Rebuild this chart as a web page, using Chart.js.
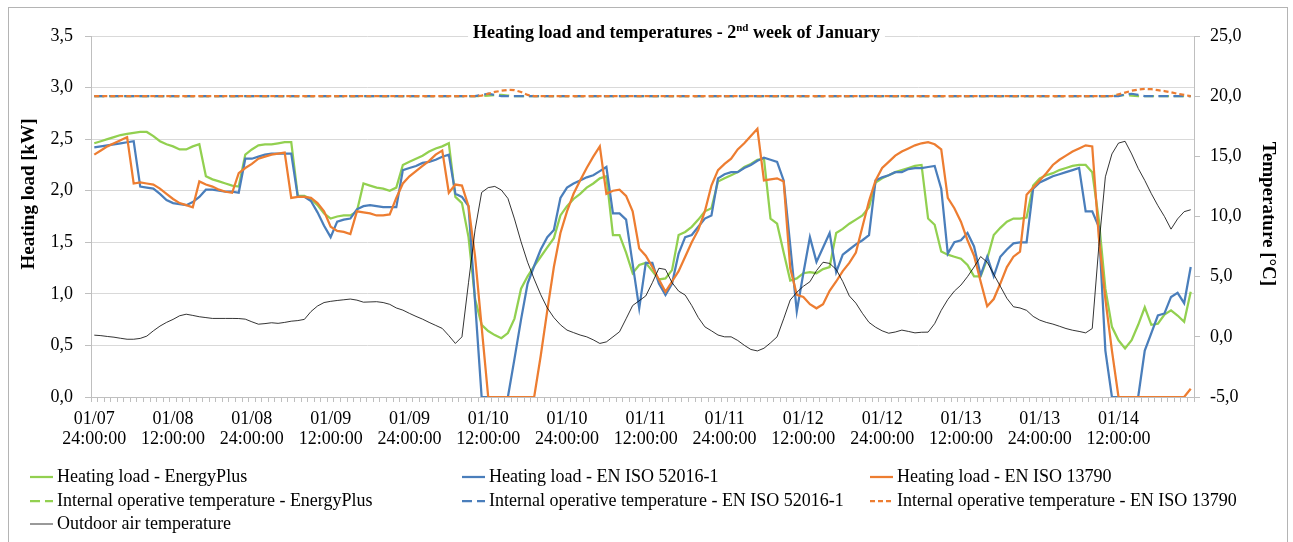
<!DOCTYPE html>
<html>
<head>
<meta charset="utf-8">
<title>Heating load and temperatures</title>
<script src="https://cdn.jsdelivr.net/npm/chart.js@4.4.0/dist/chart.umd.min.js"></script>
<style>
    html, body { margin: 0; padding: 0; background: #fff; }
    #wrap { position: relative; width: 1293px; height: 542px; }
</style>
</head>
<body>
<div id="wrap"><canvas id="heatChart" width="1293" height="542"></canvas></div>
<script>
// hourly categories, EnergyPlus style: 01/07 24:00:00 ... 01/14 23:00:00
const days = ['01/08', '01/09', '01/10', '01/11', '01/12', '01/13', '01/14'];
const hours = ['01/07 24:00:00'];
days.forEach(d => {
    for (let h = 1; h <= 23; h++) hours.push(d + ' ' + String(h).padStart(2, '0') + ':00:00');
    if (d !== '01/14') hours.push(d + ' 24:00:00');
});

// heating load [kW]
const heatEnergyPlus = [
    2.46, 2.48, 2.50, 2.52, 2.54, 2.55, 2.56, 2.57, 2.57, 2.53, 2.48, 2.45,
    2.43, 2.40, 2.40, 2.43, 2.45, 2.14, 2.11, 2.09, 2.07, 2.05, 2.04, 2.35,
    2.40, 2.44, 2.45, 2.45, 2.46, 2.47, 2.47, 1.95, 1.95, 1.92, 1.86, 1.78,
    1.73, 1.75, 1.76, 1.76, 1.80, 2.07, 2.05, 2.03, 2.02, 2.00, 2.03, 2.25,
    2.28, 2.31, 2.34, 2.38, 2.41, 2.43, 2.46, 1.94, 1.88, 1.55, 0.95, 0.70,
    0.64, 0.60, 0.57, 0.62, 0.76, 1.05, 1.17, 1.27, 1.36, 1.45, 1.54, 1.76,
    1.85, 1.92, 1.97, 2.03, 2.07, 2.12, 2.14, 1.57, 1.57, 1.40, 1.20, 1.28,
    1.30, 1.22, 1.14, 1.15, 1.23, 1.57, 1.60, 1.65, 1.72, 1.80, 1.83, 2.09,
    2.12, 2.15, 2.18, 2.23, 2.26, 2.30, 2.31, 1.73, 1.68, 1.40, 1.13, 1.15,
    1.20, 1.21, 1.20, 1.24, 1.26, 1.59, 1.63, 1.68, 1.72, 1.76, 1.84, 2.08,
    2.12, 2.15, 2.18, 2.20, 2.22, 2.24, 2.25, 1.73, 1.67, 1.41, 1.38, 1.36,
    1.34, 1.28, 1.17, 1.17, 1.34, 1.57, 1.64, 1.70, 1.73, 1.73, 1.74, 2.05,
    2.12, 2.15, 2.17, 2.20, 2.22, 2.24, 2.25, 2.25, 2.18, 1.72, 1.05, 0.68,
    0.55, 0.47, 0.55, 0.70, 0.87, 0.70, 0.71, 0.80, 0.84, 0.79, 0.73, 1.02
];
const heat52016 = [
    2.42, 2.43, 2.44, 2.45, 2.46, 2.47, 2.48, 2.04, 2.03, 2.02, 1.97, 1.91,
    1.88, 1.87, 1.86, 1.89, 1.94, 2.01, 2.01, 2.00, 1.99, 1.99, 1.98, 2.31,
    2.31, 2.33, 2.35, 2.36, 2.36, 2.36, 2.36, 1.94, 1.94, 1.90, 1.79, 1.66,
    1.55, 1.70, 1.72, 1.73, 1.82, 1.85, 1.86, 1.85, 1.84, 1.84, 1.84, 2.20,
    2.22, 2.24, 2.27, 2.28, 2.30, 2.33, 2.35, 1.97, 1.94, 1.85, 0.92, 0.00,
    0.00, 0.00, 0.00, 0.00, 0.37, 0.75, 1.10, 1.27, 1.43, 1.55, 1.62, 1.93,
    2.03, 2.07, 2.10, 2.13, 2.15, 2.19, 2.23, 1.78, 1.78, 1.72, 1.29, 0.86,
    1.30, 1.30, 1.10, 0.99, 1.10, 1.39, 1.55, 1.57, 1.65, 1.73, 1.76, 2.12,
    2.16, 2.18, 2.18, 2.22, 2.25, 2.29, 2.32, 2.30, 2.28, 2.10, 1.47, 0.83,
    1.20, 1.55, 1.31, 1.45, 1.59, 1.21, 1.38, 1.43, 1.48, 1.52, 1.57, 2.10,
    2.13, 2.15, 2.18, 2.18, 2.21, 2.22, 2.22, 2.23, 2.24, 2.02, 1.39, 1.50,
    1.52, 1.59, 1.46, 1.18, 1.36, 1.17, 1.36, 1.43, 1.49, 1.50, 1.50, 2.02,
    2.08, 2.11, 2.14, 2.16, 2.18, 2.20, 2.22, 1.80, 1.80, 1.65, 0.45, 0.00,
    0.00, 0.00, 0.00, 0.00, 0.45, 0.62, 0.79, 0.81, 0.97, 1.01, 0.91, 1.26
];
const heat13790 = [
    2.35, 2.39, 2.43, 2.46, 2.49, 2.52, 2.07, 2.08, 2.07, 2.06, 2.02, 1.97,
    1.92, 1.88, 1.86, 1.84, 2.09, 2.06, 2.04, 2.01, 1.99, 1.98, 2.17, 2.22,
    2.26, 2.31, 2.33, 2.35, 2.36, 2.37, 1.93, 1.94, 1.94, 1.93, 1.88, 1.80,
    1.65, 1.61, 1.60, 1.58, 1.80, 1.79, 1.78, 1.76, 1.76, 1.77, 1.93, 2.07,
    2.14, 2.19, 2.24, 2.29, 2.35, 2.39, 1.98, 2.06, 2.05, 1.85, 1.36, 0.68,
    0.00, 0.00, 0.00, 0.00, 0.00, 0.00, 0.00, 0.00, 0.40, 0.84, 1.26, 1.59,
    1.80, 1.97, 2.10, 2.22, 2.33, 2.43, 1.97, 2.00, 2.01, 1.95, 1.80, 1.44,
    1.37, 1.26, 1.14, 1.02, 1.12, 1.22, 1.36, 1.50, 1.62, 1.80, 2.05, 2.20,
    2.26, 2.31, 2.40, 2.46, 2.53, 2.60, 2.10, 2.11, 2.12, 2.09, 1.25, 0.99,
    0.97, 0.90, 0.86, 0.90, 1.03, 1.12, 1.22, 1.30, 1.40, 1.65, 1.90, 2.10,
    2.22, 2.28, 2.34, 2.38, 2.41, 2.44, 2.46, 2.47, 2.45, 2.40, 1.93, 1.83,
    1.70, 1.52, 1.37, 1.12, 0.88, 0.95, 1.10, 1.26, 1.36, 1.41, 1.96, 2.03,
    2.10, 2.17, 2.25, 2.30, 2.34, 2.38, 2.41, 2.44, 2.43, 1.55, 0.95, 0.45,
    0.00, 0.00, 0.00, 0.00, 0.00, 0.00, 0.00, 0.00, 0.00, 0.00, 0.00, 0.08
];

// internal operative temperature [°C]
const tempEnergyPlus = [
    20.0, 20.0, 20.0, 20.0, 20.0, 20.0, 20.0, 20.0, 20.0, 20.0, 20.0, 20.0,
    20.0, 20.0, 20.0, 20.0, 20.0, 20.0, 20.0, 20.0, 20.0, 20.0, 20.0, 20.0,
    20.0, 20.0, 20.0, 20.0, 20.0, 20.0, 20.0, 20.0, 20.0, 20.0, 20.0, 20.0,
    20.0, 20.0, 20.0, 20.0, 20.0, 20.0, 20.0, 20.0, 20.0, 20.0, 20.0, 20.0,
    20.0, 20.0, 20.0, 20.0, 20.0, 20.0, 20.0, 20.0, 20.0, 20.0, 20.0, 20.0,
    20.05, 20.1, 20.1, 20.05, 20.0, 20.0, 20.0, 20.0, 20.0, 20.0, 20.0, 20.0,
    20.0, 20.0, 20.0, 20.0, 20.0, 20.0, 20.0, 20.0, 20.0, 20.0, 20.0, 20.0,
    20.0, 20.0, 20.0, 20.0, 20.0, 20.0, 20.0, 20.0, 20.0, 20.0, 20.0, 20.0,
    20.0, 20.0, 20.0, 20.0, 20.0, 20.0, 20.0, 20.0, 20.0, 20.0, 20.0, 20.0,
    20.0, 20.0, 20.0, 20.0, 20.0, 20.0, 20.0, 20.0, 20.0, 20.0, 20.0, 20.0,
    20.0, 20.0, 20.0, 20.0, 20.0, 20.0, 20.0, 20.0, 20.0, 20.0, 20.0, 20.0,
    20.0, 20.0, 20.0, 20.0, 20.0, 20.0, 20.0, 20.0, 20.0, 20.0, 20.0, 20.0,
    20.0, 20.0, 20.0, 20.0, 20.0, 20.0, 20.0, 20.0, 20.0, 20.0, 20.0, 20.0,
    20.05, 20.1, 20.05, 20.0, 20.0, 20.0, 20.0, 20.0, 20.0, 20.0, 20.0, 20.0
];
const temp52016 = [
    20.0, 20.0, 20.0, 20.0, 20.0, 20.0, 20.0, 20.0, 20.0, 20.0, 20.0, 20.0,
    20.0, 20.0, 20.0, 20.0, 20.0, 20.0, 20.0, 20.0, 20.0, 20.0, 20.0, 20.0,
    20.0, 20.0, 20.0, 20.0, 20.0, 20.0, 20.0, 20.0, 20.0, 20.0, 20.0, 20.0,
    20.0, 20.0, 20.0, 20.0, 20.0, 20.0, 20.0, 20.0, 20.0, 20.0, 20.0, 20.0,
    20.0, 20.0, 20.0, 20.0, 20.0, 20.0, 20.0, 20.0, 20.0, 20.0, 20.0, 20.1,
    20.2, 20.1, 20.0, 20.0, 20.0, 20.0, 20.0, 20.0, 20.0, 20.0, 20.0, 20.0,
    20.0, 20.0, 20.0, 20.0, 20.0, 20.0, 20.0, 20.0, 20.0, 20.0, 20.0, 20.0,
    20.0, 20.0, 20.0, 20.0, 20.0, 20.0, 20.0, 20.0, 20.0, 20.0, 20.0, 20.0,
    20.0, 20.0, 20.0, 20.0, 20.0, 20.0, 20.0, 20.0, 20.0, 20.0, 20.0, 20.0,
    20.0, 20.0, 20.0, 20.0, 20.0, 20.0, 20.0, 20.0, 20.0, 20.0, 20.0, 20.0,
    20.0, 20.0, 20.0, 20.0, 20.0, 20.0, 20.0, 20.0, 20.0, 20.0, 20.0, 20.0,
    20.0, 20.0, 20.0, 20.0, 20.0, 20.0, 20.0, 20.0, 20.0, 20.0, 20.0, 20.0,
    20.0, 20.0, 20.0, 20.0, 20.0, 20.0, 20.0, 20.0, 20.0, 20.0, 20.0, 20.0,
    20.0, 20.15, 20.2, 20.1, 20.0, 20.0, 20.0, 20.0, 20.0, 20.0, 20.0, 20.0
];
const temp13790 = [
    20.0, 20.0, 20.0, 20.0, 20.0, 20.0, 20.0, 20.0, 20.0, 20.0, 20.0, 20.0,
    20.0, 20.0, 20.0, 20.0, 20.0, 20.0, 20.0, 20.0, 20.0, 20.0, 20.0, 20.0,
    20.0, 20.0, 20.0, 20.0, 20.0, 20.0, 20.0, 20.0, 20.0, 20.0, 20.0, 20.0,
    20.0, 20.0, 20.0, 20.0, 20.0, 20.0, 20.0, 20.0, 20.0, 20.0, 20.0, 20.0,
    20.0, 20.0, 20.0, 20.0, 20.0, 20.0, 20.0, 20.0, 20.0, 20.0, 20.0, 20.05,
    20.2, 20.35, 20.45, 20.52, 20.5, 20.35, 20.1, 20.0, 20.0, 20.0, 20.0, 20.0,
    20.0, 20.0, 20.0, 20.0, 20.0, 20.0, 20.0, 20.0, 20.0, 20.0, 20.0, 20.0,
    20.0, 20.0, 20.0, 20.0, 20.0, 20.0, 20.0, 20.0, 20.0, 20.0, 20.0, 20.0,
    20.0, 20.0, 20.0, 20.0, 20.0, 20.0, 20.0, 20.0, 20.0, 20.0, 20.0, 20.0,
    20.0, 20.0, 20.0, 20.0, 20.0, 20.0, 20.0, 20.0, 20.0, 20.0, 20.0, 20.0,
    20.0, 20.0, 20.0, 20.0, 20.0, 20.0, 20.0, 20.0, 20.0, 20.0, 20.0, 20.0,
    20.0, 20.0, 20.0, 20.0, 20.0, 20.0, 20.0, 20.0, 20.0, 20.0, 20.0, 20.0,
    20.0, 20.0, 20.0, 20.0, 20.0, 20.0, 20.0, 20.0, 20.0, 20.0, 20.0, 20.0,
    20.15, 20.3, 20.45, 20.55, 20.6, 20.58, 20.5, 20.42, 20.32, 20.2, 20.1, 20.0
];

// outdoor air temperature [°C]
const tempOutdoor = [
    0.14, 0.10, 0.03, -0.03, -0.12, -0.20, -0.20, -0.13, 0.06, 0.50, 0.89, 1.20,
    1.45, 1.75, 1.88, 1.78, 1.67, 1.60, 1.53, 1.53, 1.53, 1.53, 1.52, 1.47,
    1.25, 1.05, 1.10, 1.17, 1.12, 1.20, 1.30, 1.35, 1.45, 2.10, 2.56, 2.85,
    2.95, 3.02, 3.08, 3.14, 3.05, 2.88, 2.90, 2.92, 2.85, 2.70, 2.40, 2.22,
    1.95, 1.70, 1.47, 1.20, 0.95, 0.70, 0.10, -0.55, 0.00, 4.50, 8.90, 12.00,
    12.40, 12.50, 12.20, 11.50, 9.80, 7.90, 6.20, 4.80, 3.50, 2.40, 1.60, 1.00,
    0.56, 0.35, 0.15, 0.00, -0.25, -0.55, -0.42, 0.00, 0.42, 1.50, 2.60, 3.00,
    3.40, 4.50, 5.70, 5.60, 4.50, 3.80, 3.47, 2.60, 1.60, 0.83, 0.50, 0.15,
    0.00, 0.00, -0.30, -0.70, -1.05, -1.17, -0.95, -0.50, 0.00, 1.50, 3.06, 3.70,
    4.20, 4.58, 5.50, 6.20, 6.10, 5.60, 4.60, 3.40, 2.80, 1.95, 1.20, 0.80,
    0.50, 0.30, 0.40, 0.56, 0.45, 0.33, 0.38, 0.39, 1.10, 2.20, 3.10, 3.80,
    4.30, 5.00, 5.80, 6.67, 6.20, 5.20, 4.20, 3.20, 2.50, 2.40, 2.20, 1.70,
    1.39, 1.20, 1.06, 0.88, 0.69, 0.55, 0.45, 0.33, 0.69, 7.50, 13.30, 15.20,
    16.10, 16.25, 15.20, 14.00, 13.00, 11.90, 10.90, 10.00, 8.95, 9.80, 10.40, 10.56
];

const SERIF = '"Liberation Serif", "Times New Roman", serif';
const GREEN = '#92d050';
const BLUE = '#4a7ebb';
const ORANGE = '#ed7d31';
const AXIS = '#bfbfbf';

// frame, title, axis titles and legend drawn on the canvas
const decorations = {
    id: 'decorations',
    beforeDraw(chart) {
        const ctx = chart.ctx;
        ctx.save();
        ctx.fillStyle = '#fff';
        ctx.fillRect(0, 0, chart.width, chart.height);
        ctx.strokeStyle = '#b4b4b4';
        ctx.lineWidth = 1;
        ctx.strokeRect(8.5, 7.5, 1279, 600);
        ctx.restore();
    },
    afterDraw(chart) {
        const ctx = chart.ctx;
        ctx.save();
        ctx.fillStyle = '#000';

        // title with superscript
        const big = 'bold 18px ' + SERIF, small = 'bold 11px ' + SERIF;
        const a = 'Heating load and temperatures - 2', s = 'nd', b = ' week of January';
        ctx.font = big;
        const wa = ctx.measureText(a).width, wb = ctx.measureText(b).width;
        ctx.font = small;
        const ws = ctx.measureText(s).width;
        const total = wa + ws + wb;
        const x0 = 676.5 - total / 2;
        ctx.fillStyle = '#fff';
        ctx.fillRect(x0 - 5, 24, total + 10, 18);
        ctx.fillStyle = '#000';
        ctx.textBaseline = 'alphabetic';
        ctx.textAlign = 'left';
        ctx.font = big;
        ctx.fillText(a, x0, 38);
        ctx.font = small;
        ctx.fillText(s, x0 + wa, 31);
        ctx.font = big;
        ctx.fillText(b, x0 + wa + ws, 38);

        // axis titles
        ctx.font = 'bold 19px ' + SERIF;
        ctx.textAlign = 'center';
        ctx.textBaseline = 'middle';
        ctx.save();
        ctx.translate(29, 194);
        ctx.rotate(-Math.PI / 2);
        ctx.fillText('Heating load [kW]', 0, 0);
        ctx.restore();
        ctx.save();
        ctx.translate(1268, 214);
        ctx.rotate(Math.PI / 2);
        ctx.fillText('Temperature [°C]', 0, 0);
        ctx.restore();

        // legend, three columns
        const colX = [30, 462, 870];
        const rowY = [477, 501, 524];
        ctx.font = '18px ' + SERIF;
        ctx.textAlign = 'left';
        chart.data.datasets.forEach((ds, i) => {
            const x = colX[i % 3], y = rowY[Math.floor(i / 3)];
            ctx.beginPath();
            ctx.strokeStyle = ds.borderColor;
            ctx.lineWidth = ds.borderWidth;
            ctx.setLineDash(ds.borderDash || []);
            ctx.moveTo(x, y);
            ctx.lineTo(x + 23, y);
            ctx.stroke();
            ctx.setLineDash([]);
            ctx.fillText(ds.label, x + 27, y);
        });
        ctx.restore();
    }
};

const ctx = document.getElementById('heatChart').getContext('2d');
new Chart(ctx, {
    type: 'line',
    data: {
        labels: hours,
        datasets: [
            { label: 'Heating load - EnergyPlus', data: heatEnergyPlus, yAxisID: 'yLoad',
              borderColor: GREEN, borderWidth: 2.25, order: 6 },
            { label: 'Heating load - EN ISO 52016-1', data: heat52016, yAxisID: 'yLoad',
              borderColor: BLUE, borderWidth: 2.25, order: 5 },
            { label: 'Heating load - EN ISO 13790', data: heat13790, yAxisID: 'yLoad',
              borderColor: ORANGE, borderWidth: 2.25, order: 4 },
            { label: 'Internal operative temperature - EnergyPlus', data: tempEnergyPlus, yAxisID: 'yTemp',
              borderColor: GREEN, borderWidth: 2.25, borderDash: [10, 5], order: 3 },
            { label: 'Internal operative temperature - EN ISO 52016-1', data: temp52016, yAxisID: 'yTemp',
              borderColor: BLUE, borderWidth: 2.25, borderDash: [10, 5], order: 2 },
            { label: 'Internal operative temperature - EN ISO 13790', data: temp13790, yAxisID: 'yTemp',
              borderColor: ORANGE, borderWidth: 2.25, borderDash: [5, 3], order: 1 },
            { label: 'Outdoor air temperature', data: tempOutdoor, yAxisID: 'yTemp',
              borderColor: '#000', borderWidth: 0.8, order: 0 }
        ]
    },
    options: {
        responsive: false,
        animation: false,
        layout: { padding: { top: 36, left: 0, right: 0, bottom: 0 } },
        elements: {
            point: { radius: 0 },
            line: { tension: 0, fill: false }
        },
        plugins: {
            legend: { display: false },
            title: { display: false },
            tooltip: { enabled: false }
        },
        scales: {
            x: {
                type: 'category',
                offset: true,
                afterFit: s => { s.height = 145; },
                grid: { offset: true, drawOnChartArea: false, tickLength: 5, color: AXIS },
                border: { color: AXIS },
                ticks: {
                    autoSkip: false,
                    maxRotation: 0,
                    minRotation: 0,
                    padding: 7,
                    color: '#000',
                    font: { family: SERIF, size: 18, lineHeight: 1.11 },
                    callback: function (val, idx) {
                        return idx % 12 === 0 ? this.getLabelForValue(val).split(' ') : '';
                    }
                }
            },
            yLoad: {
                position: 'left',
                min: 0,
                max: 3.5,
                afterFit: s => { s.width = 91; },
                grid: { color: '#d9d9d9', tickColor: AXIS, tickLength: 6 },
                border: { color: AXIS },
                ticks: {
                    stepSize: 0.5,
                    padding: 12,
                    color: '#000',
                    font: { family: SERIF, size: 18 },
                    callback: v => v.toFixed(1).replace('.', ',')
                }
            },
            yTemp: {
                position: 'right',
                min: -5,
                max: 25,
                afterFit: s => { s.width = 99; },
                grid: { drawOnChartArea: false, tickColor: AXIS, tickLength: 6 },
                border: { color: AXIS },
                ticks: {
                    stepSize: 5,
                    padding: 10,
                    color: '#000',
                    font: { family: SERIF, size: 18 },
                    callback: v => v.toFixed(1).replace('.', ',')
                }
            }
        }
    },
    plugins: [decorations]
});
</script>
</body>
</html>
